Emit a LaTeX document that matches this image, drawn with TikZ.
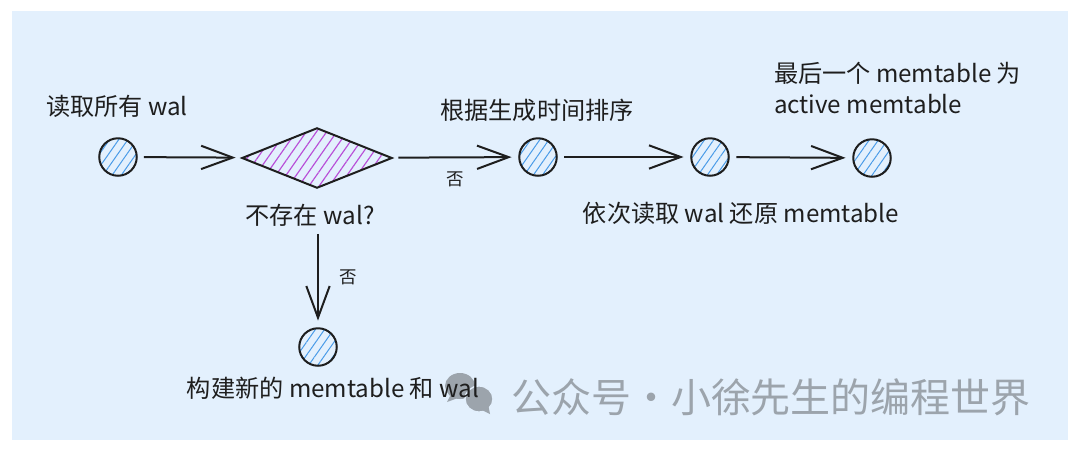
\documentclass[tikz,border=0pt]{standalone}
\usepackage{fontspec}
\setmainfont{Noto Sans CJK SC}
\usetikzlibrary{positioning,arrows.meta,shapes.geometric,patterns.meta}
\definecolor{bgblue}{HTML}{E3F0FD}
\definecolor{hatchblue}{HTML}{4A9BE8}
\definecolor{hatchpurple}{HTML}{B84FD8}
\definecolor{ink}{HTML}{1E1E1E}
\definecolor{markgray}{HTML}{9CA4AC}
\newcommand{\lblfont}{\fontsize{14.5}{19}\selectfont}

\begin{document}
\begin{tikzpicture}[x=0.6pt, y=-0.6pt, line width=1.2pt, >={Straight Barb[length=19pt,width=14pt]},
  dot/.style={circle, draw=ink, minimum size=22.5pt, inner sep=0pt,
    pattern={Lines[angle=55,distance=4.5pt,line width=0.6pt]}, pattern color=hatchblue},
  decide/.style={diamond, draw=ink, aspect=2.5, minimum width=90pt, minimum height=36pt, inner sep=0pt,
    pattern={Lines[angle=55,distance=5pt,line width=0.7pt]}, pattern color=hatchpurple},
  lbl/.style={font=\lblfont, text=ink, inner sep=0pt},
  nolbl/.style={font=\fontsize{10.5}{12}\selectfont, text=ink},
  flow/.style={->, draw=ink, shorten <=4pt, shorten >=4pt}]
  \useasboundingbox (0,0) rectangle (1080,453);
  \fill[bgblue] (12,11) rectangle (1068,440);
  \node[dot] (c1) at (118,157) {};
  \node[decide] (d1) at (317,158) {};
  \node[dot] (c2) at (538,157) {};
  \node[dot] (c3) at (710,157) {};
  \node[dot] (c4) at (872,158) {};
  \node[dot] (c5) at (318,347) {};
  \node[lbl] (t1) at (117,106) {读取所有 wal};
  \node[lbl] (t2) at (310,215) {不存在 wal?};
  \node[lbl] (t3) at (537,110) {根据生成时间排序};
  \node[lbl, align=left, anchor=west] (t4) at (773,88) {最后一个 memtable 为\\active memtable};
  \node[lbl] (t5) at (741,213) {依次读取 wal 还原 memtable};
  \fill[markgray] (460,386) ellipse (15 and 13);
  \fill[markgray] (447,402) -- (452,392) -- (458,398) -- cycle;
  \filldraw[markgray, draw=bgblue, line width=0.8pt] (479,399) ellipse (14 and 13);
  \fill[markgray] (490,414) -- (488,404) -- (482,410) -- cycle;
  \node[lbl] (t6) at (333,388) {构建新的 memtable 和 wal};
  \node[font=\fontsize{24}{28}\selectfont, text=markgray, anchor=west, inner sep=0pt] (wm) at (510,397)
    {公众号·小徐先生的编程世界};
  \draw[flow] (c1) -- (d1);
  \draw[flow] (d1) -- node[below=5pt, nolbl] {否} (c2);
  \draw[flow] (c2) -- (c3);
  \draw[flow] (c3) -- (c4);
  \draw[flow] (t2.south -| c5) -- node[right=9pt, nolbl] {否} (c5);
\end{tikzpicture}
\end{document}
